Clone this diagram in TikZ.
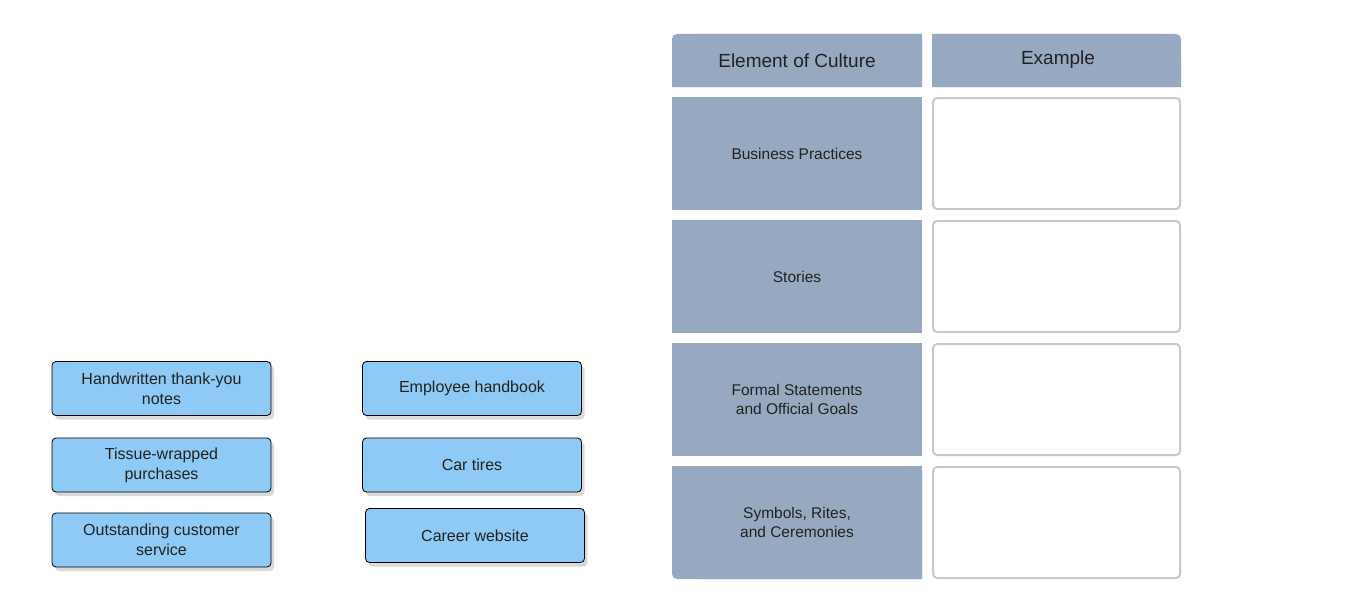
\documentclass[tikz,border=0pt]{standalone}
\usepackage{fontspec}
\setmainfont{Liberation Sans}
\usetikzlibrary{shadows}
\definecolor{chip}{HTML}{8ECAF5}
\definecolor{hdr}{HTML}{97A9C0}
\definecolor{txt}{HTML}{222222}
\definecolor{cellb}{HTML}{C8C8C8}
\begin{document}
\begin{tikzpicture}[x=1pt,y=-1pt,
  chipbox/.style={draw=black,line width=0.8pt,fill=chip,rounded corners=4pt,minimum width=219pt,minimum height=54pt,align=center,font=\fontsize{16}{20}\selectfont,text=txt,drop shadow={shadow xshift=3pt,shadow yshift=-4pt,opacity=0.25,fill=black!60}},
  labcell/.style={fill=hdr,minimum width=250pt,minimum height=113pt,align=center,font=\fontsize{15.5}{19}\selectfont,text=txt,inner sep=0pt},
  hcell/.style={fill=hdr,minimum width=250pt,minimum height=53pt,align=center,font=\fontsize{19}{23}\selectfont,text=txt,inner sep=0pt},
  excell/.style={draw=cellb,line width=2pt,fill=white,rounded corners=4pt,minimum width=247pt,minimum height=111pt,inner sep=0pt}]
\useasboundingbox (0,0) rectangle (1359,602);
\node[chipbox] (c1) at (161.5,388.5) {Handwritten thank-you\\notes};
\node[chipbox] (c2) at (161.5,465) {Tissue-wrapped\\purchases};
\node[chipbox] (c3) at (161.5,540) {Outstanding customer\\service};
\node[chipbox] (c4) at (472,388.5) {Employee handbook};
\node[chipbox] (c5) at (472,465) {Car tires};
\node[chipbox] (c6) at (475,535.5) {Career website};
\fill[hdr,rounded corners=5pt] (672,34) rectangle (922,87);
\fill[hdr] (672,60) rectangle (922,87) (700,34) rectangle (922,60);
\node[hcell,fill=none] (h1) at (797,60.5) {Element of Culture};
\fill[hdr,rounded corners=5pt] (932,34) rectangle (1181,87);
\fill[hdr] (932,60) rectangle (1181,87) (932,34) rectangle (1160,60);
\node[hcell,fill=none] (h2) at (1058,59.5) {Example};
\node[labcell] (r1) at (797,153.5) {Business Practices};
\node[labcell] (r2) at (797,276.5) {Stories};
\node[labcell] (r3) at (797,399.5) {Formal Statements\\and Official Goals};
\fill[hdr,rounded corners=5pt] (672,466) rectangle (922,579);
\fill[hdr] (672,466) rectangle (922,540) (700,466) rectangle (922,579);
\node[labcell,fill=none] (r4) at (797,522.5) {Symbols, Rites,\\and Ceremonies};
\node[excell] (e1) at (1056.5,153.5) {};
\node[excell] (e2) at (1056.5,276.5) {};
\node[excell] (e3) at (1056.5,399.5) {};
\node[excell] (e4) at (1056.5,522.5) {};
\end{tikzpicture}
\end{document}
